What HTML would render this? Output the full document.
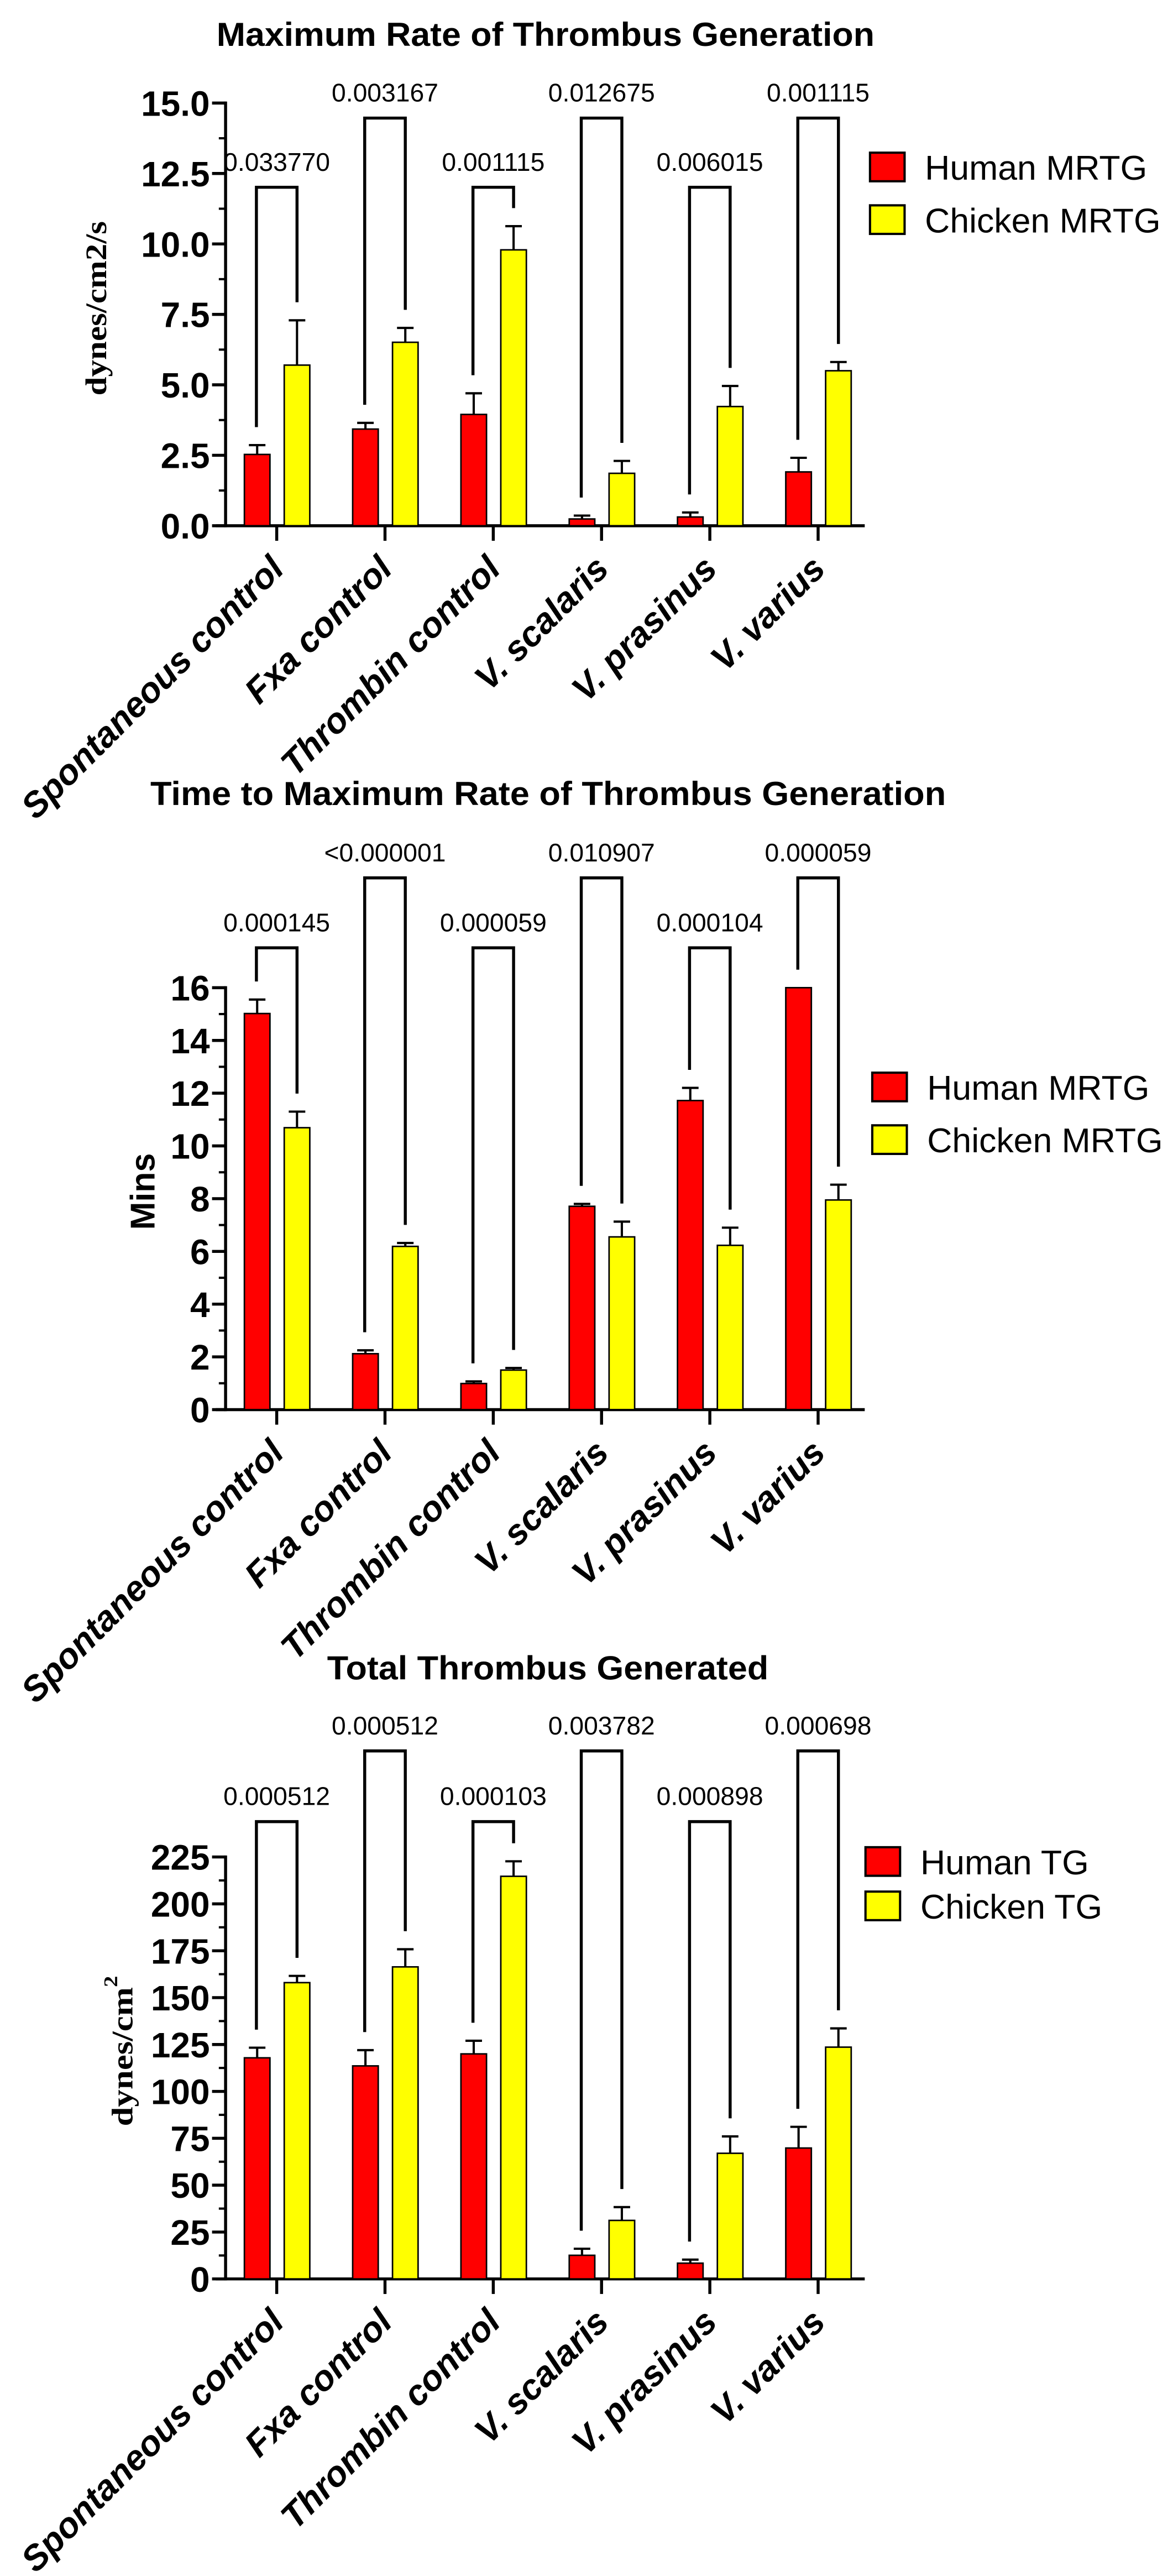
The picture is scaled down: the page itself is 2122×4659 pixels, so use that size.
<!DOCTYPE html>
<html><head><meta charset="utf-8"><style>
html,body{margin:0;padding:0;background:#fff;overflow:hidden;}
svg{display:block;font-family:"Liberation Sans",sans-serif;}
</style></head><body>
<svg id="root" width="2122" height="4659" viewBox="0 0 2122 4659" xmlns="http://www.w3.org/2000/svg">
<g id="g" transform="scale(1.3603)"></g>
</svg>
<script>
const categories=["Spontaneous control","Fxa control","Thrombin control","V. scalaris","V. prasinus","V. varius"];
// chart 1
const c1Human=[2.53,3.43,3.95,0.24,0.31,1.91];
const c1HumanErr=[2.86,3.65,4.70,0.36,0.47,2.41];
const c1Chicken=[5.70,6.51,9.79,1.86,4.23,5.50];
const c1ChickenErr=[7.29,7.02,10.63,2.30,4.96,5.81];
const c1P=["0.033770","0.003167","0.001115","0.012675","0.006015","0.001115"];
const c1Ticks=["0.0","2.5","5.0","7.5","10.0","12.5","15.0"];
// chart 2
const c2Human=[15.02,2.12,0.99,7.71,11.72,16.0];
const c2HumanErr=[15.55,2.25,1.07,7.80,12.2,16.0];
const c2Chicken=[10.69,6.19,1.50,6.55,6.23,7.95];
const c2ChickenErr=[11.3,6.32,1.58,7.13,6.90,8.53];
const c2P=["0.000145","<0.000001","0.000059","0.010907","0.000104","0.000059"];
const c2Ticks=["0","2","4","6","8","10","12","14","16"];
// chart 3
const c3Human=[117.9,113.6,120,12.6,8.4,69.8];
const c3HumanErr=[123.3,122,127,16.1,10.3,81.1];
const c3Chicken=[158,166.4,214.7,31.2,67,123.6];
const c3ChickenErr=[161.6,175.8,222.7,38.3,76,133.6];
const c3P=["0.000512","0.000512","0.000103","0.003782","0.000898","0.000698"];
const c3Ticks=["0","25","50","75","100","125","150","175","200","225"];

const NS="http://www.w3.org/2000/svg";
const root=document.getElementById('g');
function mk(tag,attrs,parent,txt){const e=document.createElementNS(NS,tag);for(const k in attrs)e.setAttribute(k,attrs[k]);if(txt!==undefined)e.textContent=txt;(parent||root).appendChild(e);return e;}

function chart(cfg){
  const g=mk('g',{transform:'translate(0,'+cfg.oy+')'});
  
  
  const y=v=>cfg.zeroY-(v/cfg.max)*(cfg.zeroY-cfg.topY);
  const cx=i=>368+144*i;
  const t=mk('text',{x:cfg.title[1],y:cfg.title[3],'font-size':44,'font-weight':'bold',textLength:cfg.title[2],lengthAdjust:'spacingAndGlyphs'},g,cfg.title[0]);
  
  
  const yt=mk('text',{transform:'translate('+cfg.yt[1]+','+cfg.yt[2]+') rotate(-90)','text-anchor':'middle','dominant-baseline':'central','font-size':cfg.yt[4],'font-weight':'bold',textLength:cfg.yt[3],lengthAdjust:'spacingAndGlyphs',style:'font-family:'+cfg.yt[5]},g);
  
  
  if(cfg.sup){yt.appendChild(document.createTextNode('dynes/cm'));mk('tspan',{dy:-16,'font-size':26},yt,'2');}
  else yt.textContent=cfg.yt[0];
  const ya=mk('line',{x1:300,y1:cfg.zeroY+2,x2:300,y2:cfg.topY-2,stroke:'#000','stroke-width':4},g);
  
  
  const xa=mk('line',{x1:287,y1:cfg.zeroY,x2:1150,y2:cfg.zeroY,stroke:'#000','stroke-width':4},g);
  
  
  const n=cfg.ticks.length;
  for(let k=0;k<n;k++){
    const v=cfg.max*k/(n-1);
    mk('line',{x1:282,y1:y(v),x2:300,y2:y(v),stroke:'#000','stroke-width':4},g);
    const tl=mk('text',{x:279,y:y(v)+17,'text-anchor':'end','font-size':47,'font-weight':'bold'},g,cfg.ticks[k]);
    
    
    if(k<n-1){const vm=cfg.max*(k+0.5)/(n-1);mk('line',{x1:291,y1:y(vm),x2:300,y2:y(vm),stroke:'#000','stroke-width':3},g);}
  }
  for(let i=0;i<6;i++){
    mk('line',{x1:cx(i),y1:cfg.zeroY,x2:cx(i),y2:cfg.zeroY+20,stroke:'#000','stroke-width':4},g);
    const px=cx(i)+12,py=cfg.zeroY+60;
    const xl=mk('text',{transform:'translate('+px+','+py+') rotate(-45)','text-anchor':'end','font-size':47,'font-weight':'bold','font-style':'italic'},g,categories[i]);
    
    
    const series=[[cfg.h,cfg.he,'#ff0000',-26,'human-bar'],[cfg.c,cfg.ce,'#ffff00',27,'chicken-bar']];
    for(const s of series){
      const bx=cx(i)+s[3];
      const r=mk('rect',{x:bx-17,y:y(s[0][i]),width:34,height:cfg.zeroY-y(s[0][i]),fill:s[2],stroke:'#000','stroke-width':2},g);
      
      
      if(s[1][i]>s[0][i]+0.0001){
        mk('line',{x1:bx,y1:y(s[0][i]),x2:bx,y2:y(s[1][i]),stroke:'#000','stroke-width':3},g);
        mk('line',{x1:bx-11,y1:y(s[1][i]),x2:bx+11,y2:y(s[1][i]),stroke:'#000','stroke-width':3},g);
      }
    }
    const by=(i%2===0)?cfg.lo:cfg.hi, lx=cx(i)-27, rx=cx(i)+27;
    const br=mk('path',{d:'M'+lx+','+(y(cfg.he[i])-24)+' V'+by+' H'+rx+' V'+(y(cfg.ce[i])-24),fill:'none',stroke:'#000','stroke-width':4},g);
    
    
    const pl=mk('text',{x:cx(i),y:by-22,'text-anchor':'middle','font-size':34},g,cfg.p[i]);
    
    
  }
  const L=cfg.leg;
  const items=[[L.names[0],'#ff0000',L.y1],[L.names[1],'#ffff00',L.y2]];
  for(const it of items){
    const lg=mk('g',{},g);
    
    
    mk('rect',{x:L.x,y:it[2],width:46,height:38,fill:it[1],stroke:'#000','stroke-width':3},lg);
    mk('text',{x:L.x+73,y:it[2]+36,'font-size':46},lg,it[0]);
  }
}
chart({name:'chart-max-rate',oy:0,zeroY:699,topY:137,max:15,ticks:c1Ticks,h:c1Human,he:c1HumanErr,c:c1Chicken,ce:c1ChickenErr,p:c1P,lo:249,hi:157,
  title:['Maximum Rate of Thrombus Generation',288,875,61],yt:['dynes/cm2/s',128,410,232,40,'"Liberation Serif",serif'],
  leg:{names:['Human MRTG','Chicken MRTG'],x:1157,y1:203,y2:273}});
chart({name:'chart-time-to-max',oy:1029.2,zeroY:845,topY:284,max:16,ticks:c2Ticks,h:c2Human,he:c2HumanErr,c:c2Chicken,ce:c2ChickenErr,p:c2P,lo:231,hi:138,
  title:['Time to Maximum Rate of Thrombus Generation',200,1058,41],yt:['Mins',190,555,102,46,'"Liberation Sans",sans-serif'],
  leg:{names:['Human MRTG','Chicken MRTG'],x:1160,y1:397,y2:467}});
chart({name:'chart-total-thrombus',oy:1865,zeroY:1165,topY:604,max:225,ticks:c3Ticks,h:c3Human,he:c3HumanErr,c:c3Chicken,ce:c3ChickenErr,p:c3P,lo:557,hi:463,sup:true,
  title:['Total Thrombus Generated',435,587,368],yt:['dynes/cm2',163,862,200,40,'"Liberation Serif",serif'],
  leg:{names:['Human TG','Chicken TG'],x:1151,y1:591,y2:650}});
</script>
</body></html>
